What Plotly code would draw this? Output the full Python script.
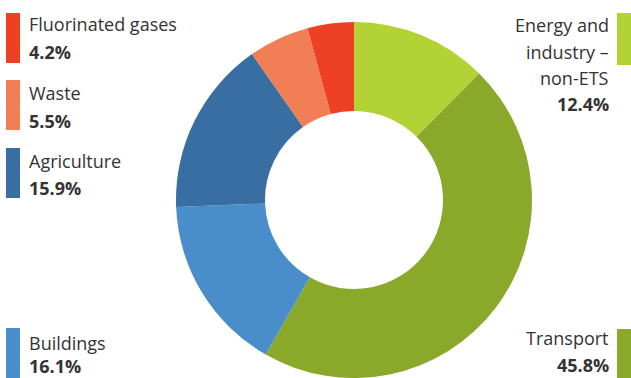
import plotly.graph_objects as go

# Data
categories = ["Energy and industry – non-ETS", "Transport", "Buildings", "Agriculture", "Waste", "Fluorinated gases"]
label_lines = [["Energy and", "industry –", "non-ETS"], ["Transport"], ["Buildings"], ["Agriculture"], ["Waste"], ["Fluorinated gases"]]
shares = [12.4, 45.8, 16.1, 15.9, 5.5, 4.2]
colors = ["#B2D235", "#8AA82A", "#4A8DCB", "#386EA2", "#F27E56", "#EE4124"]

W, H = 631, 378
fig = go.Figure()
fig.add_trace(go.Pie(
    labels=categories, values=shares, sort=False, direction="clockwise",
    hole=0.5, textinfo="none", hoverinfo="label+percent",
    marker=dict(colors=colors, line=dict(width=0)),
    domain=dict(x=[(354 - 178) / W, (354 + 178) / W], y=[0, 1 - 22 / H]),
    showlegend=False,
))

FONT = "'Open Sans', Lato, sans-serif"
TXT = "#333333"
FS = 18


def py(y):
    return 1 - y / H


def px(x):
    return x / W


def text(x, y, s, anchor):
    fig.add_annotation(xref="paper", yref="paper", x=px(x), y=py(y), xanchor=anchor, yanchor="middle",
                       text=s, showarrow=False, borderpad=0, font=dict(family=FONT, size=FS, color=TXT))


# Legend keys layout: (index, bar top, bar bottom, line centres..., value centre)
left_items = [(5, 13, 63, [24.5], 52.5), (4, 80, 130, [93.5], 120.5),
              (3, 148, 198, [160.5], 187.5), (2, 328, 380, [342.5], 366)]
right_items = [(0, 13, 65, [25.5, 51.5, 78], 104), (1, 329, 380, [338], 365)]

for idx, y0, y1, ys, yv in left_items:
    fig.add_shape(type="rect", xref="paper", yref="paper",
                  x0=px(6), x1=px(20), y0=py(y1), y1=py(y0),
                  fillcolor=colors[idx], line=dict(width=0))
    for line, yl in zip(label_lines[idx], ys):
        text(28, yl, line, "left")
    text(28, yv, f"<b>{shares[idx]}%</b>", "left")

for idx, y0, y1, ys, yv in right_items:
    fig.add_shape(type="rect", xref="paper", yref="paper",
                  x0=px(617), x1=px(631), y0=py(y1), y1=py(y0),
                  fillcolor=colors[idx], line=dict(width=0))
    for line, yl in zip(label_lines[idx], ys):
        text(610, yl, line, "right")
    text(610, yv, f"<b>{shares[idx]}%</b>", "right")

fig.update_layout(width=W, height=H, margin=dict(l=0, r=0, t=0, b=0),
                  paper_bgcolor="white", plot_bgcolor="white")
fig.write_html("out.html", config={"displayModeBar": False},
               post_script="document.body.style.margin='0';document.body.style.overflow='hidden';")
